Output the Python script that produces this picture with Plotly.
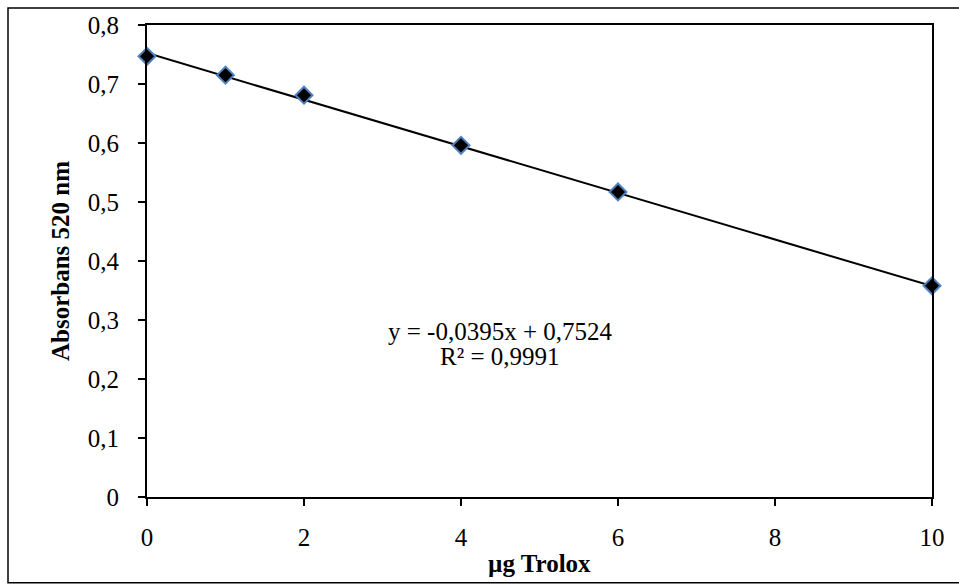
import plotly.graph_objects as go

trolox_ug = [0, 1, 2, 4, 6, 10]
absorbance = [0.747, 0.715, 0.681, 0.596, 0.517, 0.358]
slope = -0.0395
intercept = 0.7524
trend_x = [0, 10]
trend_y = [intercept + slope * v for v in trend_x]

y_ticks = [0, 0.1, 0.2, 0.3, 0.4, 0.5, 0.6, 0.7, 0.8]
y_tick_labels = ["0", "0,1", "0,2", "0,3", "0,4", "0,5", "0,6", "0,7", "0,8"]
x_ticks = [0, 2, 4, 6, 8, 10]
x_tick_labels = ["0", "2", "4", "6", "8", "10"]

FONT = "Liberation Serif"
FS = 25
W, H = 959, 588
L, R, T, B = 147, 27, 23, 91
pw, ph = W - L - R, H - T - B

def px_to_paper_x(px):
    return (px - L) / pw

def px_to_paper_y(py):
    return (H - B - py) / ph

fig = go.Figure()
fig.add_trace(go.Scatter(x=trend_x, y=trend_y, mode="lines",
                         line=dict(color="black", width=2), showlegend=False, hoverinfo="skip"))
fig.add_trace(go.Scatter(x=trolox_ug, y=absorbance, mode="markers",
                         marker=dict(symbol="diamond", size=13, color="black",
                                     line=dict(color="#4f81bd", width=2)),
                         showlegend=False, cliponaxis=False))

fig.update_layout(
    width=W, height=H,
    margin=dict(l=L, r=R, t=T, b=B),
    paper_bgcolor="white", plot_bgcolor="white",
    font=dict(family=FONT, size=FS, color="black"),
    xaxis=dict(range=[0, 10], tickvals=x_ticks, ticktext=x_tick_labels,
               showgrid=False, zeroline=False, showline=True, linecolor="black", linewidth=2,
               mirror=True, ticks="outside", ticklen=7, tickwidth=2, tickcolor="black",
               ticklabelstandoff=10),
    yaxis=dict(range=[0, 0.8], tickvals=y_ticks, ticktext=y_tick_labels,
               showgrid=False, zeroline=False, showline=True, linecolor="black", linewidth=2,
               mirror=True, ticks="outside", ticklen=7, tickwidth=2, tickcolor="black",
               ticklabelstandoff=14),
    annotations=[
        dict(text="<b>Absorbans 520 nm</b>", xref="paper", yref="paper",
             x=px_to_paper_x(60), y=0.5, textangle=-90, showarrow=False,
             font=dict(family=FONT, size=FS), xanchor="center", yanchor="middle"),
        dict(text="<b>µg Trolox</b>", xref="paper", yref="paper",
             x=0.5, y=px_to_paper_y(564), showarrow=False,
             font=dict(family=FONT, size=FS), xanchor="center", yanchor="middle"),
        dict(text="y = -0,0395x + 0,7524", xref="paper", yref="paper",
             x=px_to_paper_x(500), y=px_to_paper_y(331), showarrow=False,
             font=dict(family=FONT, size=FS), xanchor="center", yanchor="middle"),
        dict(text="R² = 0,9991", xref="paper", yref="paper",
             x=px_to_paper_x(500), y=px_to_paper_y(356), showarrow=False,
             font=dict(family=FONT, size=FS), xanchor="center", yanchor="middle"),
    ],
    shapes=[dict(type="rect", xref="paper", yref="paper",
                 x0=px_to_paper_x(8), x1=px_to_paper_x(965),
                 y0=px_to_paper_y(583), y1=px_to_paper_y(6),
                 line=dict(color="black", width=1.5), layer="below")],
)

fig.write_html("out.html")
